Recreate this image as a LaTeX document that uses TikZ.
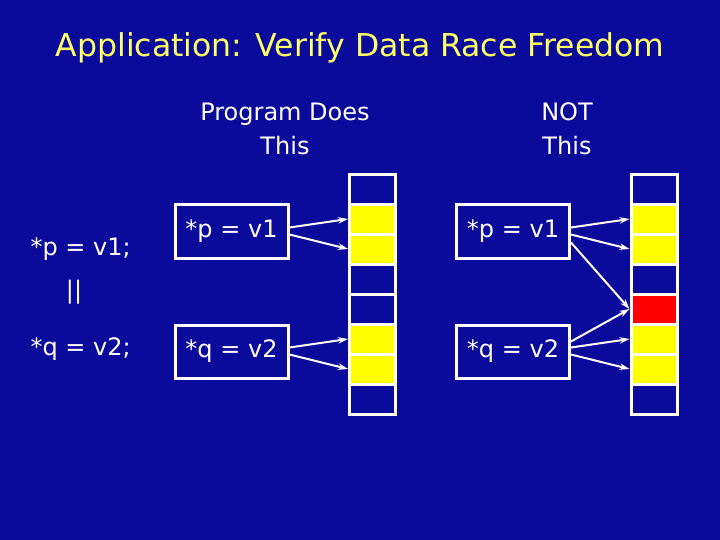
\documentclass[tikz,border=0pt]{standalone}
\usepackage{fontspec}
\setmainfont{DejaVu Sans}
\usetikzlibrary{matrix, arrows.meta}

\definecolor{slideblue}{RGB}{10,10,155}
\definecolor{titleyel}{RGB}{255,255,102}
\definecolor{cellyel}{RGB}{255,255,0}
\definecolor{cellred}{RGB}{255,0,0}

\begin{document}
\begin{tikzpicture}[
		x=1pt, y=-1pt,
		% Title & Text
		mainTitle/.style={font=\fontsize{31.5}{36}\selectfont, text=titleyel, anchor=base},
		body/.style={font=\fontsize{24}{34}\selectfont, text=white, align=center},
		% Statement boxes
		stmt/.style={body, draw=white, line width=3pt, minimum width=113pt, minimum height=53pt, inner sep=0pt},
		% Memory column
		cell/.style={draw=white, line width=3pt, minimum width=46pt, minimum height=30pt, inner sep=0pt, fill=slideblue},
		mem/.style={
			matrix of nodes, nodes in empty cells,
			nodes={cell}, row sep=-3pt, inner sep=0pt
		},
		wr/.style={draw=white, line width=2pt, -{Stealth[length=10pt, width=6.5pt]}}
		]

	\useasboundingbox[fill=slideblue] (0,0) rectangle (720,540);

	\node[mainTitle] (title) at (360,57) {Application: Verify Data Race Freedom};

	% ==============================================================================
	% Program text
	% ==============================================================================
	\node[body, anchor=base west] (progP) at (27,255) {*p = v1;};
	\node[body] (par) at (74,292) {||};
	\node[body, anchor=base west] (progQ) at (27,355) {*q = v2;};

	% ==============================================================================
	% Program Does This
	% ==============================================================================
	\node[body] (hdrDoes) at (285,129) {Program Does\\This};
	\node[stmt] (pA) at (231.5,231.5) {*p = v1};
	\node[stmt] (qA) at (231.5,351.5) {*q = v2};
	\matrix[mem] (memA) at (372.5,294) {
			\\
			|[fill=cellyel]| \\
			|[fill=cellyel]| \\
			\\
			\\
			|[fill=cellyel]| \\
			|[fill=cellyel]| \\
			\\
		};
	\draw[wr] ([yshift=4pt]pA.east) -- (memA-2-1.west);
	\draw[wr] ([yshift=-3pt]pA.east) -- (memA-3-1.west);
	\draw[wr] ([yshift=4pt]qA.east) -- (memA-6-1.west);
	\draw[wr] ([yshift=-3pt]qA.east) -- (memA-7-1.west);

	% ==============================================================================
	% NOT This
	% ==============================================================================
	\node[body] (hdrNot) at (567,129) {NOT\\This};
	\node[stmt] (pB) at (513,231.5) {*p = v1};
	\node[stmt] (qB) at (513,351.5) {*q = v2};
	\matrix[mem] (memB) at (654,294) {
			\\
			|[fill=cellyel]| \\
			|[fill=cellyel]| \\
			\\
			|[fill=cellred]| \\
			|[fill=cellyel]| \\
			|[fill=cellyel]| \\
			\\
		};
	\draw[wr] ([yshift=4pt]pB.east) -- (memB-2-1.west);
	\draw[wr] ([yshift=-3pt]pB.east) -- (memB-3-1.west);
	\draw[wr] ([yshift=-11pt]pB.east) -- (memB-5-1.west);
	\draw[wr] ([yshift=10pt]qB.east) -- (memB-5-1.west);
	\draw[wr] ([yshift=4pt]qB.east) -- (memB-6-1.west);
	\draw[wr] ([yshift=-3pt]qB.east) -- (memB-7-1.west);
\end{tikzpicture}
\end{document}
